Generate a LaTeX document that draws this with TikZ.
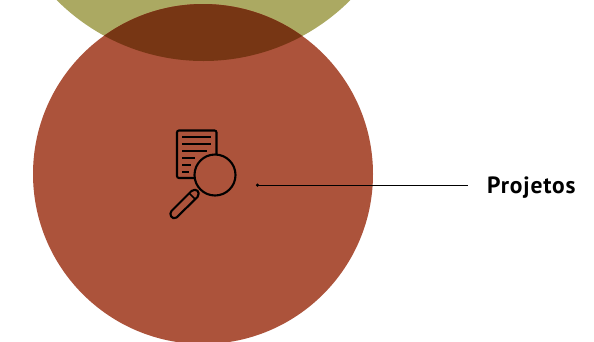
\documentclass[tikz,border=0pt]{standalone}
\usepackage{fontspec}
\setmainfont{PT Sans}
\newfontfamily\labelfont[LetterSpace=3.6]{PT Sans}
\definecolor{redc}{HTML}{AC533B}
\definecolor{olivec}{HTML}{ABA962}
\definecolor{overlapc}{HTML}{773614}
\tikzset{
  icon/.style={draw=black,line width=2.1pt},
  docline/.style={draw=black,line width=1.8pt},
  leader/.style={draw=black,line width=0.7pt},
  labeltext/.style={font=\labelfont\fontsize{23.5}{26}\selectfont\bfseries,anchor=base west,inner sep=0pt}
}
\begin{document}
\begin{tikzpicture}[x=1pt,y=-1pt]
\useasboundingbox (0,0) rectangle (594,341);
\begin{scope}
\clip (0,0) rectangle (594,341);
\fill[olivec] (203.5,-146.5) circle[radius=207.5];
\fill[redc] (203,174) circle[radius=170];
\clip (203.5,-146.5) circle[radius=207.5];
\fill[overlapc] (203,174) circle[radius=170];
\end{scope}
% document icon
\draw[icon,rounded corners=2pt] (177,130.5) rectangle (216.5,178);
\foreach \yy/\xx in {137/211,144/211,151/207,158/195,165/191,172/189}
  \draw[docline] (182,\yy) -- (\xx,\yy);
% magnifier
\draw[icon,fill=redc] (215,175) circle[radius=20.5];
\draw[icon,line join=round] (191.5,191) -- (171.5,211)
  .. controls (168.5,214) and (172,220.5) .. (176.5,217.5)
  -- (197.5,197) .. controls (201,192) and (196,187.5) .. (191.5,191) -- cycle;
\draw[icon,line width=1.5pt] (189.5,193.5) -- (195.5,199.5);
% leader
\node[circle,fill=black,inner sep=0pt,minimum size=3.5pt] (dot) at (257.5,185) {};
\coordinate (lineend) at (468,185);
\draw[leader] (dot.center) -- (lineend);
\node[labeltext] (label) at (487,193.5) {Projetos};
\end{tikzpicture}
\end{document}
